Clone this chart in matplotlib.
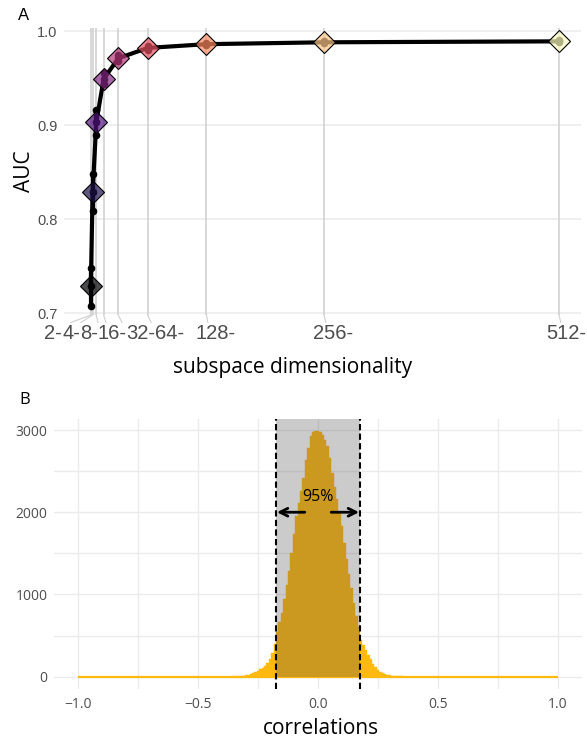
import numpy as np
import matplotlib
matplotlib.use("Agg")
import matplotlib.pyplot as plt
import matplotlib.transforms as mtransforms

# ---- panel A data: AUC per subspace dimensionality ----
dims = [2, 4, 8, 16, 32, 64, 128, 256, 512]
auc_mean = [0.729, 0.829, 0.903, 0.949, 0.971, 0.982, 0.986, 0.988, 0.989]
auc_min = [0.708, 0.808, 0.889, 0.944, 0.968, 0.980, 0.985, 0.987, 0.988]
auc_max = [0.748, 0.848, 0.916, 0.955, 0.974, 0.984, 0.987, 0.989, 0.990]
dim_labels = ["2-", "4-", "8-", "16-", "32-", "64-", "128-", "256-", "512-"]

# ---- panel B data: histogram of correlations (bin width 0.01) ----
bin_edges = np.round(np.arange(-0.355, 0.3551, 0.01), 3)
counts = [5, 6, 8, 10, 14, 18, 25, 35, 45, 60, 75, 90, 110, 135, 170, 220,
          290, 400, 540, 660, 780, 940, 1110, 1290, 1510, 1740, 1960, 2110,
          2260, 2420, 2630, 2780, 2930, 2975, 2985,
          2990,
          2980, 2940, 2880, 2800, 2660, 2480, 2310, 2160, 2000, 1830, 1620,
          1430, 1250, 1080, 900, 740, 600, 450, 380, 320, 260, 210, 160, 115,
          85, 62, 45, 30, 22, 16, 12, 9, 7, 5, 4]
ci_low, ci_high = -0.174, 0.174
ci_label = "95%"

fig = plt.figure(figsize=(5.87, 7.42), dpi=100)
W, H = 587.0, 742.0

title_font = ["Open Sans", "DejaVu Sans"]
arial_font = ["Liberation Sans", "DejaVu Sans"]
narrow_font = ["Liberation Sans Narrow", "Open Sans", "DejaVu Sans"]
grid_col = "#ebebeb"
tick_col = "#4d4d4d"

# ================= panel A =================
axA = fig.add_axes([64 / W, 1 - 315 / H, (581 - 64) / W, (315 - 28) / H])
axA.set_xlim(-27.2, 536)
axA.set_ylim(0.6979, 1.0032)
for s in axA.spines.values():
    s.set_visible(False)

for yv in [0.7, 0.8, 0.9, 1.0]:
    axA.axhline(yv, color=grid_col, lw=1.1, zorder=0)
for d in dims:
    axA.axvline(d, color="#d2d2d2", lw=1.2, zorder=0)

axA.plot(dims, auc_mean, color="black", lw=3, solid_capstyle="round", zorder=2)
axA.vlines(dims, auc_min, auc_max, color="black", lw=3, zorder=2)
axA.scatter(dims, auc_min, s=20, color="black", zorder=2)
axA.scatter(dims, auc_max, s=20, color="black", zorder=2)
axA.scatter(dims, auc_mean, s=20, color="black", zorder=2)

colors = plt.cm.magma(np.linspace(0, 1, len(dims)))
for d, a, c in zip(dims, auc_mean, colors):
    axA.plot(d, a, marker="D", ms=11.5, mfc=(c[0], c[1], c[2], 0.7),
             mec="black", mew=0.8, zorder=3)

axA.set_yticks([0.7, 0.8, 0.9, 1.0])
axA.set_yticklabels(["0.7", "0.8", "0.9", "1.0"], family=arial_font,
                    fontsize=10.5, color=tick_col)
axA.tick_params(axis="y", length=0, pad=4.5)
axA.set_xticks([])

# repelled tick labels with connector segments
trans = mtransforms.blended_transform_factory(axA.transData, axA.transAxes)
label_x = [-39.2, -19.6, 0.0, 25.6, 56.0, 87.4, 138.3, 266.3, 519.5]
seg_end = [-19.6, -8.7, 9.8, 18.5, 35.9, 67.5, 129.5, 258, 514]
for d, lx, sx, lab in zip(dims, label_x, seg_end, dim_labels):
    axA.plot([d, sx], [0, -0.026], transform=trans, color="#cfcfcf",
             lw=0.8, clip_on=False)
    axA.text(lx, -0.066, lab, transform=trans, ha="center", va="center",
             fontsize=14.5, color=tick_col, family=arial_font, clip_on=False)

fig.text(292.5 / W, 1 - 367 / H, "subspace dimensionality", ha="center",
         va="center", fontsize=15, family=title_font)
fig.text(25 / W, 1 - 171 / H, "AUC", ha="center", va="center", rotation=90,
         fontsize=15, family=title_font)
fig.text(24 / W, 1 - 15 / H, "A", ha="center", va="center", fontsize=12,
         family=arial_font)

# ================= panel B =================
axB = fig.add_axes([54 / W, 1 - 689 / H, (582 - 54) / W, (689 - 419) / H])
axB.set_xlim(-1.1, 1.1)
axB.set_ylim(-150, 3134)
for s in axB.spines.values():
    s.set_visible(False)

for xv in np.arange(-1.0, 1.01, 0.25):
    axB.axvline(xv, color=grid_col, lw=1.0, zorder=0)
for yv in range(0, 3001, 500):
    axB.axhline(yv, color=grid_col, lw=1.0, zorder=0)

orange = "#FFB90F"
axB.hlines(0, -1.0, 1.0, color=orange, lw=1.6, zorder=1)
step_x = np.repeat(bin_edges, 2)[1:-1]
step_y = np.repeat(counts, 2)
axB.fill_between(step_x, 0, step_y, color=orange, lw=0.3, edgecolor=orange,
                 zorder=1)

y0 = (0 - axB.get_ylim()[0]) / (axB.get_ylim()[1] - axB.get_ylim()[0])
axB.axvspan(ci_low, ci_high, ymin=y0, ymax=1, color="#4d4d4d", alpha=0.29,
            lw=0, zorder=2)
for xv in [ci_low, ci_high]:
    axB.axvline(xv, color="black", lw=1.5, ls=(0, (3, 1.6)), zorder=3)

axB.annotate("", xy=(ci_low + 0.003, 2000), xytext=(-0.055, 2000),
             arrowprops=dict(arrowstyle="->", lw=2, color="black",
                             mutation_scale=14, shrinkA=0, shrinkB=0),
             zorder=4)
axB.annotate("", xy=(ci_high - 0.003, 2000), xytext=(0.055, 2000),
             arrowprops=dict(arrowstyle="->", lw=2, color="black",
                             mutation_scale=14, shrinkA=0, shrinkB=0),
             zorder=4)
axB.text(0.0, 2190, ci_label, ha="center", va="center", fontsize=11.5,
         family=narrow_font, zorder=4)

axB.set_xticks([-1.0, -0.5, 0.0, 0.5, 1.0])
axB.set_xticklabels(["\u22121.0", "\u22120.5", "0.0", "0.5", "1.0"],
                    family=narrow_font, fontsize=10, color=tick_col)
axB.set_yticks([0, 1000, 2000, 3000])
axB.set_yticklabels(["0", "1000", "2000", "3000"], family=narrow_font,
                    fontsize=10, color=tick_col)
axB.tick_params(axis="x", length=0, pad=6)
axB.tick_params(axis="y", length=0, pad=4.5)

fig.text(321 / W, 1 - 728 / H, "correlations", ha="center", va="center",
         fontsize=15, family=title_font)
fig.text(25 / W, 1 - 400 / H, "B", ha="center", va="center", fontsize=12,
         family=narrow_font)

fig.savefig("out.png", dpi=100)
